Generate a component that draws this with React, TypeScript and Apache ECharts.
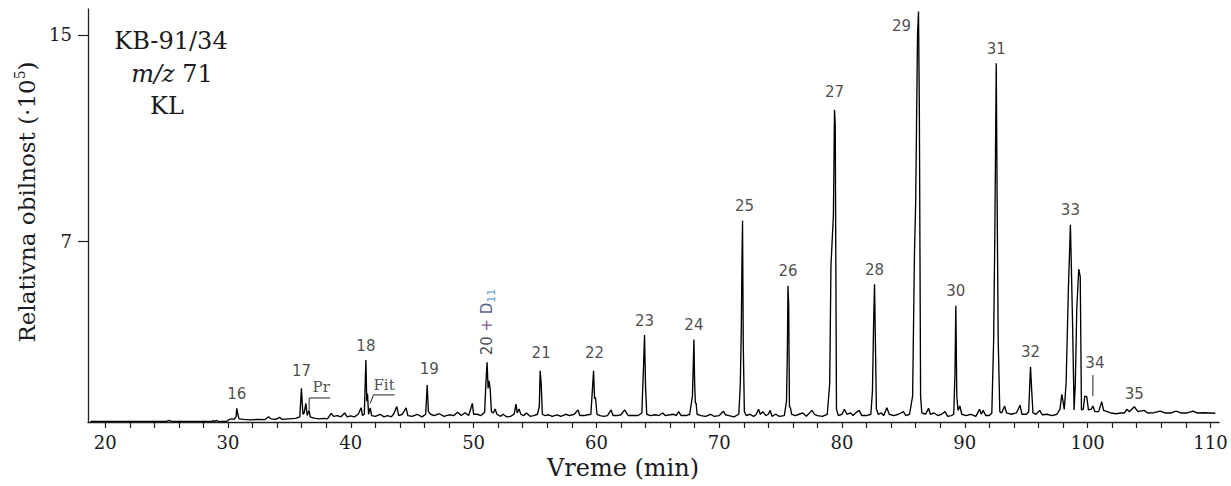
import React, { useEffect, useRef } from "react";
import * as echarts from "echarts";

// Chromatogram trace, [retention time (min), relative abundance (·10^5)]
const trace19to46: [number, number][] = [
  [18.8, 0.02], [25.0, 0.02], [25.2, 0.06], [25.4, 0.02], [28.7, 0.02], [28.8, 0.06], [28.9, 0.02],
  [29.05, 0.06], [29.2, 0.02], [29.9, 0.03], [30.1, 0.1], [30.3, 0.12], [30.5, 0.1], [30.65, 0.2],
  [30.72, 0.53], [30.8, 0.3], [30.9, 0.12], [31.3, 0.1], [31.8, 0.08], [32.4, 0.1], [33.0, 0.09],
  [33.3, 0.2], [33.5, 0.12], [33.9, 0.1], [34.2, 0.18], [34.4, 0.1], [34.9, 0.12], [35.5, 0.14],
  [35.85, 0.2], [35.98, 1.31], [36.1, 0.3], [36.2, 0.35], [36.34, 0.72], [36.45, 0.25], [36.6, 0.45],
  [36.7, 0.2], [37.0, 0.15], [37.4, 0.12], [37.8, 0.14], [38.1, 0.12], [38.4, 0.33], [38.6, 0.22],
  [38.9, 0.25], [39.2, 0.2], [39.5, 0.35], [39.7, 0.2], [40.0, 0.24], [40.3, 0.2], [40.6, 0.3],
  [40.85, 0.55], [40.95, 0.25], [41.1, 0.3], [41.23, 2.4], [41.3, 0.8], [41.36, 1.1], [41.45, 0.3],
  [41.58, 0.55], [41.7, 0.25], [42.0, 0.22], [42.4, 0.3], [42.7, 0.2], [43.0, 0.25], [43.3, 0.2],
  [43.5, 0.32], [43.75, 0.6], [43.9, 0.25], [44.2, 0.3], [44.5, 0.55], [44.65, 0.25], [45.0, 0.22],
  [45.4, 0.3], [45.8, 0.2],
];
const trace46to72: [number, number][] = [
  [46.1, 0.3], [46.22, 1.43], [46.32, 0.4], [46.5, 0.3], [46.8, 0.25], [47.2, 0.32], [47.6, 0.22],
  [48.0, 0.28], [48.4, 0.25], [48.7, 0.38], [49.0, 0.25], [49.3, 0.36], [49.6, 0.25], [49.9, 0.72],
  [50.0, 0.3], [50.3, 0.3], [50.6, 0.25], [50.9, 0.38], [51.0, 1.5], [51.1, 2.31], [51.18, 1.3],
  [51.25, 1.6], [51.35, 1.3], [51.45, 0.4], [51.6, 0.35], [51.75, 0.5], [51.9, 0.3], [52.2, 0.22],
  [52.4, 0.3], [52.7, 0.2], [53.0, 0.22], [53.3, 0.3], [53.45, 0.69], [53.55, 0.35], [53.7, 0.5],
  [53.85, 0.3], [54.1, 0.25], [54.3, 0.35], [54.6, 0.22], [54.9, 0.25], [55.2, 0.3], [55.35, 0.6],
  [55.42, 1.98], [55.5, 1.5], [55.6, 0.3], [55.8, 0.25], [56.1, 0.28], [56.4, 0.22], [56.8, 0.28],
  [57.1, 0.22], [57.5, 0.3], [57.8, 0.25], [58.2, 0.3], [58.5, 0.47], [58.65, 0.25], [59.0, 0.25],
  [59.3, 0.28], [59.55, 0.3], [59.68, 1.3], [59.77, 1.98], [59.85, 0.9], [59.92, 0.96], [60.05, 0.3],
  [60.3, 0.25], [60.6, 0.22], [60.9, 0.25], [61.2, 0.47], [61.35, 0.25], [61.7, 0.25], [62.0, 0.28],
  [62.3, 0.47], [62.45, 0.35], [62.6, 0.25], [63.0, 0.25], [63.4, 0.25], [63.7, 0.35], [63.84, 2.18],
  [63.92, 3.37], [64.0, 1.4], [64.1, 0.3], [64.4, 0.25], [64.8, 0.28], [65.1, 0.25], [65.4, 0.35],
  [65.6, 0.25], [66.0, 0.28], [66.3, 0.3], [66.5, 0.25], [66.7, 0.4], [66.9, 0.25], [67.3, 0.25],
  [67.6, 0.3], [67.82, 1.0], [67.88, 2.05], [67.94, 3.2], [68.0, 1.5], [68.06, 0.73], [68.12, 0.73],
  [68.2, 0.3], [68.5, 0.25], [68.9, 0.22], [69.3, 0.3], [69.6, 0.22], [70.0, 0.25], [70.35, 0.42],
  [70.5, 0.28], [70.8, 0.25], [71.2, 0.2], [71.6, 0.3], [71.72, 1.5], [71.8, 3.6], [71.85, 6.1],
  [71.9, 7.8], [71.96, 3.0], [72.05, 0.4],
];
const trace72to92: [number, number][] = [
  [72.2, 0.25], [72.5, 0.3], [72.8, 0.22], [73.0, 0.28], [73.2, 0.49], [73.35, 0.3], [73.55, 0.4],
  [73.8, 0.25], [74.0, 0.3], [74.15, 0.45], [74.3, 0.22], [74.6, 0.3], [74.9, 0.22], [75.3, 0.25],
  [75.48, 0.8], [75.55, 2.67], [75.6, 5.28], [75.66, 4.5], [75.72, 0.6], [75.8, 0.55], [75.9, 0.3],
  [76.2, 0.25], [76.5, 0.3], [76.8, 0.35], [77.1, 0.22], [77.55, 0.45], [77.75, 0.3], [78.0, 0.25],
  [78.4, 0.22], [78.8, 0.3], [79.0, 1.5], [79.1, 6.05], [79.3, 8.0], [79.39, 12.1], [79.45, 11.5],
  [79.55, 0.5], [79.7, 0.25], [80.0, 0.3], [80.2, 0.49], [80.4, 0.3], [80.7, 0.35], [80.9, 0.25],
  [81.1, 0.35], [81.4, 0.45], [81.6, 0.25], [82.0, 0.25], [82.35, 0.3], [82.48, 1.2], [82.58, 4.0],
  [82.65, 5.34], [82.72, 3.1], [82.8, 0.5], [82.95, 0.3], [83.2, 0.35], [83.4, 0.25], [83.65, 0.55],
  [83.85, 0.3], [84.2, 0.25], [84.6, 0.3], [85.0, 0.4], [85.2, 0.25], [85.5, 0.3], [85.75, 1.0],
  [85.9, 6.5], [86.0, 8.5], [86.15, 15.0], [86.23, 15.9], [86.3, 12.0], [86.4, 1.0], [86.5, 0.35],
  [86.8, 0.3], [87.05, 0.53], [87.2, 0.3], [87.5, 0.35], [87.8, 0.25], [88.1, 0.3], [88.4, 0.4],
  [88.6, 0.22], [88.9, 0.25], [89.1, 0.3], [89.2, 1.9], [89.27, 4.5], [89.35, 1.0], [89.45, 0.45],
  [89.6, 0.62], [89.75, 0.3], [90.1, 0.25], [90.5, 0.3], [90.9, 0.22], [91.2, 0.49], [91.35, 0.3],
  [91.5, 0.45], [91.7, 0.25], [92.0, 0.25],
];
const trace92to111: [number, number][] = [
  [92.2, 0.35], [92.35, 3.2], [92.45, 7.5], [92.56, 13.9], [92.65, 7.5], [92.72, 3.2], [92.85, 0.4],
  [93.0, 0.35], [93.24, 0.62], [93.4, 0.35], [93.8, 0.3], [94.2, 0.35], [94.5, 0.65], [94.65, 0.3],
  [95.0, 0.3], [95.2, 0.4], [95.35, 2.14], [95.45, 1.2], [95.55, 0.35], [95.8, 0.3], [96.1, 0.45],
  [96.3, 0.28], [96.7, 0.3], [97.1, 0.25], [97.5, 0.3], [97.75, 0.5], [97.9, 1.07], [98.0, 0.8],
  [98.1, 0.49], [98.25, 1.5], [98.44, 5.24], [98.6, 7.64], [98.7, 5.5], [98.77, 3.95], [98.9, 0.47],
  [99.0, 1.5], [99.12, 4.4], [99.28, 5.92], [99.4, 5.63], [99.5, 0.47], [99.65, 0.5], [99.77, 1.0],
  [99.93, 0.98], [100.07, 0.47], [100.3, 0.5], [100.43, 0.62], [100.6, 0.4], [100.9, 0.4],
  [101.15, 0.79], [101.3, 0.45], [101.6, 0.4], [101.9, 0.35], [102.3, 0.32], [102.7, 0.35],
  [103.0, 0.35], [103.2, 0.49], [103.4, 0.4], [103.8, 0.59], [104.1, 0.4], [104.6, 0.45],
  [104.9, 0.35], [105.4, 0.36], [105.9, 0.42], [106.3, 0.35], [106.8, 0.35], [107.2, 0.42],
  [107.6, 0.35], [108.1, 0.35], [108.6, 0.42], [108.9, 0.35], [109.5, 0.36], [110.4, 0.34],
];

// Numbered peaks: label, apex time, apex height
const peakNames = ["16", "17", "18", "19", "20", "21", "22", "23", "24", "25", "26", "27", "28", "29", "30", "31", "32", "33", "34", "35"];
const peakTimes = [30.72, 35.98, 41.23, 46.22, 51.1, 55.42, 59.77, 63.92, 67.94, 71.9, 75.6, 79.39, 82.65, 86.23, 89.27, 92.56, 95.35, 98.6, 100.43, 103.8];
const peakHeights = [0.53, 1.31, 2.4, 1.43, 2.31, 1.98, 1.98, 3.37, 3.2, 7.8, 5.28, 12.1, 5.34, 15.9, 4.5, 13.9, 2.14, 7.64, 0.62, 0.59];

// Compound annotations (Pr = pristane, Fit = phytane) and their leader lines
const compoundNames = ["Pr", "Fit"];
const compoundLabelTimes = [37.59, 42.71];
const compoundLabelHeights = [1.37, 1.43];
const prLeader: [number, number][] = [[36.61, 0.47], [36.61, 0.93], [38.32, 0.93]];
const fitLeader: [number, number][] = [[41.58, 0.72], [41.85, 1.05], [43.56, 1.05]];
const leader34: [number, number][] = [[100.43, 1.0], [100.43, 1.82]];

// Axis ticks
const xTicks = [20, 22, 24, 26, 28, 30, 32, 34, 36, 38, 40, 42, 44, 46, 48, 50, 52, 54, 56, 58, 60, 62, 64, 66, 68, 70, 72, 74, 76, 78, 80, 82, 84, 86, 88, 90, 92, 94, 96, 98, 100, 102, 104, 106, 108, 110];
const xTickLabels = [20, 30, 40, 50, 60, 70, 80, 90, 100, 110];
const yTickLabels = [7, 15];

const SERIF = "DejaVu Serif";
const SANS = "DejaVu Sans";
const INK = "#1a1a22";

export default function App() {
  const ref = useRef<HTMLDivElement>(null);

  useEffect(() => {
    document.body.style.margin = "0";
    if (!ref.current) return;
    const chart = echarts.init(ref.current, null, { renderer: "svg" });

    const trace = [...trace19to46, ...trace46to72, ...trace72to92, ...trace92to111];

    const labelOffsets: Record<string, [number, number]> = {
      "17": [0, -3],
      "19": [2, -2],
      "21": [1, -3],
      "22": [1, -3],
      "25": [2, 0],
      "27": [0, -3],
      "29": [-17, 29],
      "34": [2, -28],
      "35": [0, 2],
    };

    const peakData = peakNames.map((name, i) => {
      const item: any = { name, value: [peakTimes[i], peakHeights[i]] };
      if (name === "20") {
        item.label = {
          position: [0, -7],
          rotate: 90,
          align: "left",
          verticalAlign: "middle",
          formatter: "{n|20 }{p|+}{d| D}{s|11}",
          rich: {
            n: { fontFamily: SANS, fontSize: 15, color: INK, lineHeight: 20 },
            p: { fontFamily: SANS, fontSize: 15, color: "#6b2a7a", lineHeight: 20 },
            d: { fontFamily: SANS, fontSize: 15, color: "#1f3864", lineHeight: 20 },
            s: { fontFamily: SANS, fontSize: 11, color: "#2e75b6", lineHeight: 11, verticalAlign: "bottom" },
          },
        };
      } else if (labelOffsets[name]) {
        item.label = { offset: labelOffsets[name] };
      }
      return item;
    });

    const compoundData = compoundNames.map((name, i) => ({
      name,
      value: [compoundLabelTimes[i], compoundLabelHeights[i]],
    }));

    const leaderStyle = { color: "#222", width: 1 };
    const leaderSeries = (data: [number, number][]) => ({
      type: "line",
      data,
      showSymbol: false,
      symbol: "none",
      lineStyle: leaderStyle,
      silent: true,
      z: 3,
    });

    chart.setOption({
      animation: false,
      backgroundColor: "#ffffff",
      grid: { left: 88, right: 12, top: 9, bottom: 64, containLabel: false },
      xAxis: {
        type: "value",
        min: 18.6,
        max: 110.7,
        splitLine: { show: false },
        axisLine: { show: true, onZero: false, lineStyle: { color: "#222", width: 1.3 } },
        axisTick: { show: true, inside: false, length: 6, customValues: xTicks, lineStyle: { color: "#222", width: 1.2 } },
        axisLabel: {
          customValues: xTickLabels,
          margin: 11,
          fontFamily: SERIF,
          fontSize: 18,
          color: INK,
        },
      },
      yAxis: {
        type: "value",
        min: 0,
        max: 16,
        splitLine: { show: false },
        axisLine: { show: true, onZero: false, lineStyle: { color: "#222", width: 1.3 } },
        axisTick: { show: true, inside: false, length: 10, customValues: yTickLabels, lineStyle: { color: "#222", width: 1.2 } },
        axisLabel: {
          customValues: yTickLabels,
          margin: 16,
          fontFamily: SERIF,
          fontSize: 18,
          color: INK,
        },
      },
      series: [
        {
          type: "line",
          data: trace,
          showSymbol: false,
          symbol: "none",
          lineStyle: { color: "#000", width: 1.35 },
          z: 2,
        },
        {
          type: "scatter",
          data: peakData,
          symbolSize: 0,
          silent: true,
          z: 4,
          label: {
            show: true,
            position: "top",
            distance: 7,
            formatter: "{b}",
            fontFamily: SANS,
            fontSize: 15,
            color: INK,
          },
        },
        {
          type: "scatter",
          data: compoundData,
          symbolSize: 0,
          silent: true,
          z: 4,
          label: {
            show: true,
            position: "inside",
            formatter: "{b}",
            fontFamily: SERIF,
            fontSize: 15,
            color: INK,
          },
        },
        leaderSeries(prLeader),
        leaderSeries(fitLeader),
        leaderSeries(leader34),
      ],
      graphic: [
        {
          type: "text",
          x: 171,
          y: 41,
          style: { text: "KB-91/34", font: `24px '${SERIF}'`, fill: INK, align: "center", verticalAlign: "middle" },
        },
        {
          type: "text",
          x: 172,
          y: 74,
          style: {
            text: "{i|m/z} 71",
            font: `24px '${SERIF}'`,
            fill: INK,
            align: "center",
            verticalAlign: "middle",
            rich: { i: { fontStyle: "italic", fontFamily: SERIF, fontSize: 24 } },
          },
        },
        {
          type: "text",
          x: 167,
          y: 106,
          style: { text: "KL", font: `24px '${SERIF}'`, fill: INK, align: "center", verticalAlign: "middle" },
        },
        {
          type: "text",
          x: 27,
          y: 202,
          rotation: Math.PI / 2,
          style: {
            text: "{a|Relativna obilnost (·10}{s|5}{a|)}",
            fill: INK,
            align: "center",
            verticalAlign: "middle",
            rich: {
              a: { fontFamily: SERIF, fontSize: 23, lineHeight: 29, fill: INK },
              s: { fontFamily: SERIF, fontSize: 14, lineHeight: 14, verticalAlign: "top", fill: INK },
            },
          },
        },
        {
          type: "text",
          x: 623,
          y: 468,
          style: { text: "Vreme (min)", font: `24px '${SERIF}'`, fill: INK, align: "center", verticalAlign: "middle" },
        },
      ],
    });

    return () => chart.dispose();
  }, []);

  return <div ref={ref} style={{ width: 1231, height: 486 }} />;
}
